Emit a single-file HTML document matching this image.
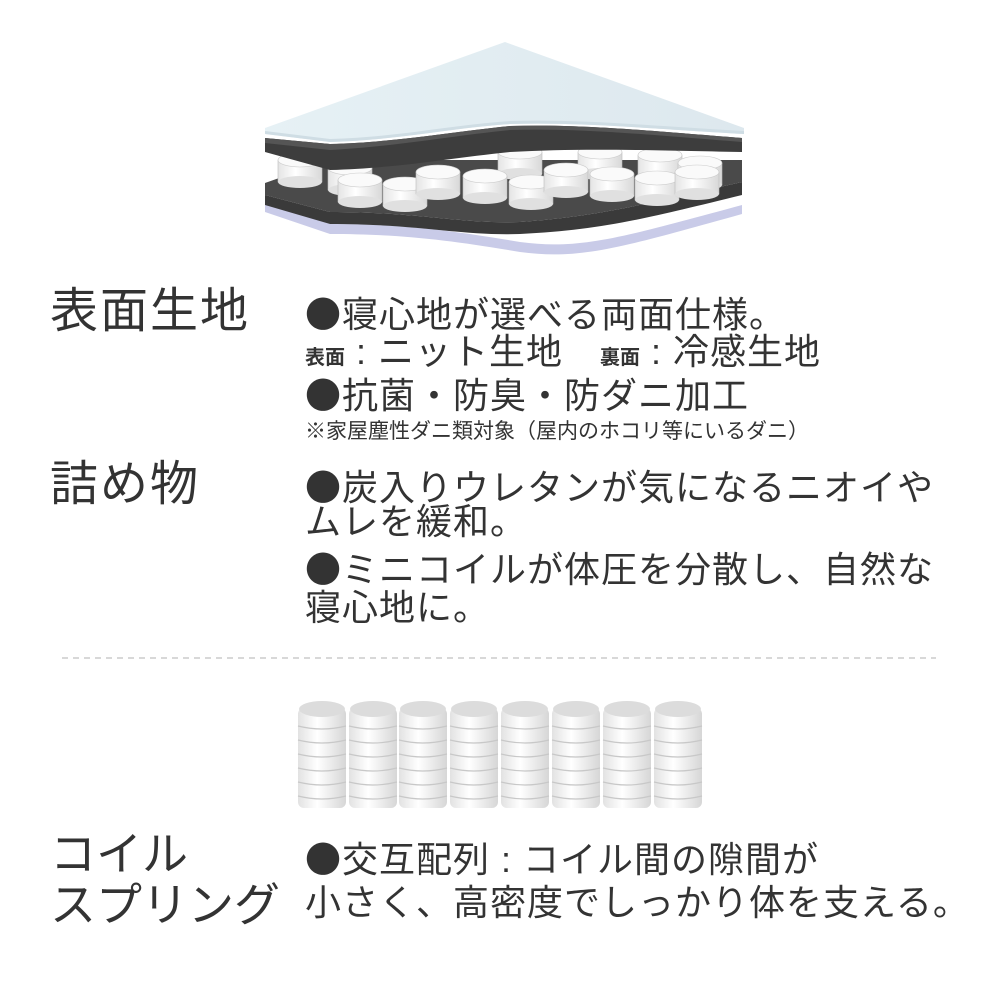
<!DOCTYPE html>
<html><head><meta charset="utf-8"><style>
html,body{margin:0;padding:0;background:#fff;}
body{width:1000px;height:1000px;position:relative;overflow:hidden;font-family:"Liberation Sans","Noto Sans CJK JP",sans-serif;color:#333;}
.t{position:absolute;white-space:nowrap;line-height:1;}
.h{font-size:48px;letter-spacing:2px;}
.b{font-size:36px;letter-spacing:1px;}
.s{font-size:21px;}
.bold{font-weight:bold;font-size:20px;}
.d{font-family:"Noto Sans CJK JP",sans-serif;}
</style></head><body>
<svg width="1000" height="1000" style="position:absolute;left:0;top:0">
<defs>
<linearGradient id="sheet" x1="0" y1="0" x2="1" y2="0"><stop offset="0" stop-color="#e6f1f5"/><stop offset="1" stop-color="#dde8ee"/></linearGradient>
<linearGradient id="cyl" x1="0" y1="0" x2="1" y2="0"><stop offset="0" stop-color="#e4e4e4"/><stop offset="0.4" stop-color="#ffffff"/><stop offset="1" stop-color="#d8d8d8"/></linearGradient>
<g id="coil"><rect x="-22" y="0" width="44" height="22" fill="url(#cyl)" stroke="#bbb" stroke-width="0.6"/><ellipse cx="0" cy="22" rx="22" ry="6" fill="#e0e0e0"/><ellipse cx="0" cy="0" rx="22" ry="7" fill="#fafafa" stroke="#ccc" stroke-width="0.6"/></g>
</defs>
<path d="M265,202 L330,224 C400,224 450,230 520,242 C580,250 620,238 742,205 L742,214 C620,248 580,260 520,252 C450,240 400,234 330,234 L265,212 Z" fill="#c9cbe8"/>
<path d="M265,183 L330,160 L742,160 L742,182 C640,205 600,216 520,222 C460,224 420,212 330,212 L265,195 Z" fill="#4a4a4a"/>
<path d="M265,195 L330,212 C420,212 460,224 520,222 C600,216 640,205 742,182 L742,195 C640,220 600,230 520,234 C460,236 420,224 330,224 L265,205 Z" fill="#3a3a3a"/>
<use href="#coil" x="300" y="160"/><use href="#coil" x="350" y="168"/><use href="#coil" x="520" y="152"/><use href="#coil" x="600" y="152"/><use href="#coil" x="660" y="155"/><use href="#coil" x="700" y="163"/>
<use href="#coil" x="360" y="180"/><use href="#coil" x="405" y="184"/><use href="#coil" x="438" y="172"/><use href="#coil" x="485" y="176"/><use href="#coil" x="531" y="182"/><use href="#coil" x="566" y="170"/><use href="#coil" x="612" y="174"/><use href="#coil" x="657" y="178"/><use href="#coil" x="697" y="172"/>
<path d="M265,138 L330,144 C400,142 450,132 510,126 C580,124 640,130 742,138 L742,152 C640,150 580,148 510,152 C450,158 400,168 330,170 L265,152 Z" fill="#3d3d3d"/>
<path d="M265,138 L330,144 C400,142 450,132 510,126 C580,124 640,130 742,138 L742,142 C640,134 580,128 510,130 C450,136 400,146 330,150 L265,143 Z" fill="#555"/>
<path d="M505,42 L744,128 L744,134 C640,128 580,122 510,124 C450,128 400,140 330,142 L265,134 L265,128 Z" fill="url(#sheet)"/>
<path d="M265,131 L330,139 C400,137 450,125 510,121 C580,119 640,125 744,131 L744,134 C640,128 580,122 510,124 C450,128 400,140 330,142 L265,134 Z" fill="#cfdde4"/>
<line x1="62" y1="658" x2="936" y2="658" stroke="#ccc" stroke-width="1.5" stroke-dasharray="6,5"/>
</svg>
<svg width="1000" height="1000" style="position:absolute;left:0;top:0">
<defs>
<linearGradient id="cyl2" x1="0" y1="0" x2="1" y2="0"><stop offset="0" stop-color="#e2e2e2"/><stop offset="0.4" stop-color="#ffffff"/><stop offset="1" stop-color="#d6d6d6"/></linearGradient>
<g id="stk">
<rect x="-24" y="8" width="48" height="100" rx="6" fill="url(#cyl2)"/>
<path d="M-24,26 q24,6 48,0 M-24,40 q24,6 48,0 M-24,54 q24,6 48,0 M-24,68 q24,6 48,0 M-24,82 q24,6 48,0 M-24,96 q24,6 48,0" stroke="#c8c8c8" stroke-width="1.2" fill="none"/>
<ellipse cx="0" cy="9" rx="23" ry="8" fill="#dcdcdc"/>
</g>
</defs>
<use href="#stk" x="322" y="700"/><use href="#stk" x="373" y="700"/><use href="#stk" x="423" y="700"/><use href="#stk" x="474" y="700"/><use href="#stk" x="525" y="700"/><use href="#stk" x="576" y="700"/><use href="#stk" x="627" y="700"/><use href="#stk" x="678" y="700"/>
</svg>

<div class="t h" style="left:50px;top:288px;">表面生地</div>
<div class="t b" style="left:305px;top:294px;"><span class="d">●</span>寝心地が選べる両面仕様。</div>
<div class="t" style="left:305px;top:334px;"><span class="bold">表面</span><span class="b"> : ニット生地　</span><span class="bold">裏面</span><span class="b"> : 冷感生地</span></div>
<div class="t b" style="left:305px;top:375px;"><span class="d">●</span>抗菌・防臭・防ダニ加工</div>
<div class="t s" style="left:305px;top:421px;">※家屋塵性ダニ類対象（屋内のホコリ等にいるダニ）</div>

<div class="t h" style="left:50px;top:461px;">詰め物</div>
<div class="t b" style="left:305px;top:467px;"><span class="d">●</span>炭入りウレタンが気になるニオイや</div>
<div class="t b" style="left:305px;top:504px;">ムレを緩和。</div>
<div class="t b" style="left:305px;top:549px;"><span class="d">●</span>ミニコイルが体圧を分散し、自然な</div>
<div class="t b" style="left:305px;top:590px;">寝心地に。</div>

<div class="t h" style="left:50px;top:831px;font-size:46px;letter-spacing:0;">コイル</div>
<div class="t h" style="left:50px;top:882px;font-size:46px;letter-spacing:0;">スプリング</div>
<div class="t b" style="left:305px;top:839px;"><span class="d">●</span>交互配列 : コイル間の隙間が</div>
<div class="t b" style="left:305px;top:885px;">小さく、高密度でしっかり体を支える。</div>
</body></html>
